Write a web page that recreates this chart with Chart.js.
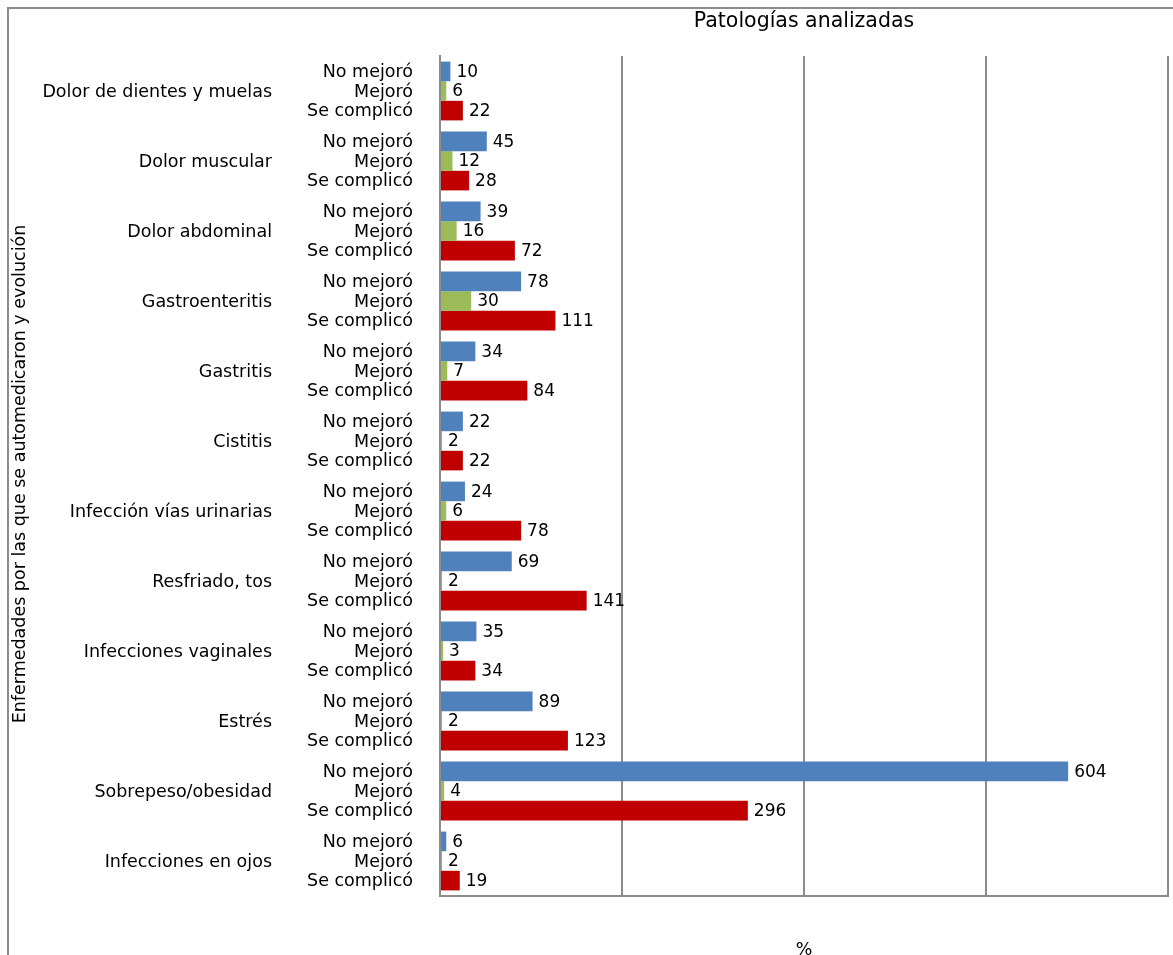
<!DOCTYPE html>
<html lang="es">
<head>
<meta charset="utf-8">
<title>Patologías analizadas</title>
<script src="https://cdn.jsdelivr.net/npm/chart.js@4.4.0/dist/chart.umd.min.js"></script>
<style>
  html, body { margin: 0; padding: 0; background: #fff; overflow: hidden; }
  #marco {
    position: absolute; left: 7px; top: 7px;
    width: 1400px; height: 1200px;
    border: 2px solid #8c8c8c;
  }
  #contenedor { position: absolute; left: 0; top: 0; width: 1173px; height: 955px; }
</style>
</head>
<body>
<div id="marco"></div>
<div id="contenedor"><canvas id="grafico"></canvas></div>
<script>
// Enfermedades (categorías del eje vertical)
const enfermedades = [
    "Dolor de dientes y muelas",
    "Dolor muscular",
    "Dolor abdominal",
    "Gastroenteritis",
    "Gastritis",
    "Cistitis",
    "Infección vías urinarias",
    "Resfriado, tos",
    "Infecciones vaginales",
    "Estrés",
    "Sobrepeso/obesidad",
    "Infecciones en ojos"
];

// Evolución tras automedicarse
const evoluciones = ["No mejoró", "Mejoró", "Se complicó"];

const noMejoro = [10, 45, 39, 78, 34, 22, 24, 69, 35, 89, 604, 6];
const mejoro = [6, 12, 16, 30, 7, 2, 6, 2, 3, 2, 4, 2];
const seComplico = [22, 28, 72, 111, 84, 22, 78, 141, 34, 123, 296, 19];

const colores = ["#4f81bd", "#9bbb59", "#c00000"];

const tituloGrafico = "Patologías analizadas";
const tituloEjeX = "%";
const tituloEjeY = "Enfermedades por las que se automedicaron y evolución";

const FUENTE = "DejaVu Sans, Verdana, sans-serif";

// Etiquetas de texto: valores, evolución, enfermedad y títulos
const etiquetasPlugin = {
    id: 'etiquetas',
    afterDatasetsDraw(chart) {
        const ctx = chart.ctx;
        const area = chart.chartArea;
        const escalaY = chart.scales.y;
        ctx.save();
        ctx.fillStyle = "#000";
        ctx.textBaseline = "middle";

        // valor al final de cada barra + nombre de la evolución a la izquierda
        chart.data.datasets.forEach((ds, d) => {
            const meta = chart.getDatasetMeta(d);
            meta.data.forEach((barra, i) => {
                ctx.font = "17px " + FUENTE;
                ctx.textAlign = "left";
                ctx.fillText(String(ds.data[i]), barra.x + 6, barra.y + 1);

                ctx.font = "17.5px " + FUENTE;
                ctx.textAlign = "right";
                ctx.fillText(evoluciones[d], area.left - 27, barra.y + 1);
            });
        });

        // nombre de la enfermedad, centrado en su grupo
        ctx.font = "17.5px " + FUENTE;
        ctx.textAlign = "right";
        enfermedades.forEach((nombre, i) => {
            ctx.fillText(nombre, area.left - 168, escalaY.getPixelForValue(i) + 1);
        });

        // títulos
        const centroX = (area.left + area.right) / 2;
        ctx.textAlign = "center";
        ctx.font = "20.5px " + FUENTE;
        ctx.fillText(tituloGrafico, centroX, 22);
        ctx.font = "17.5px " + FUENTE;
        ctx.fillText(tituloEjeX, centroX, 950);

        ctx.translate(20, 474);
        ctx.rotate(-Math.PI / 2);
        ctx.fillText(tituloEjeY, 0, 0);
        ctx.restore();
    }
};

function crearGrafico() {
    const ctx = document.getElementById('grafico').getContext('2d');
    const series = [noMejoro, mejoro, seComplico];

    return new Chart(ctx, {
        type: 'bar',
        data: {
            labels: enfermedades,
            datasets: series.map((valores, d) => ({
                label: evoluciones[d],
                data: valores,
                backgroundColor: colores[d],
                borderWidth: 0,
                categoryPercentage: 0.84,
                barPercentage: 1.0
            }))
        },
        options: {
            indexAxis: 'y',
            responsive: true,
            maintainAspectRatio: false,
            animation: false,
            layout: {
                padding: { left: 440, right: 5, top: 56, bottom: 59 }
            },
            scales: {
                x: {
                    min: 0,
                    max: 700,
                    ticks: { display: false, stepSize: 175 },
                    grid: { color: "#8c8c8c", lineWidth: 2, drawTicks: false },
                    border: { color: "#8c8c8c", width: 2 }
                },
                y: {
                    ticks: { display: false },
                    grid: { display: false, drawTicks: false },
                    border: { color: "#8c8c8c", width: 2 }
                }
            },
            plugins: {
                legend: { display: false },
                title: { display: false },
                tooltip: { enabled: false }
            }
        },
        plugins: [etiquetasPlugin]
    });
}

document.addEventListener('DOMContentLoaded', () => {
    crearGrafico();
});
</script>
</body>
</html>
